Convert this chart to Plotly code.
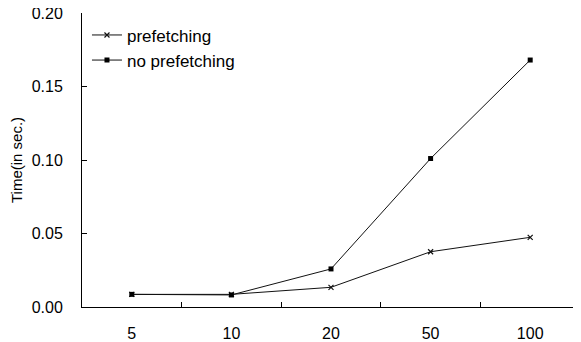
import plotly.graph_objects as go

categories = ["5", "10", "20", "50", "100"]
prefetching = [0.0086, 0.0086, 0.0134, 0.0376, 0.0474]
no_prefetching = [0.0086, 0.0082, 0.0259, 0.101, 0.168]
y_ticks = [0.0, 0.05, 0.10, 0.15, 0.20]
y_tick_labels = ["0.00", "0.05", "0.10", "0.15", "0.20"]

font = "Liberation Sans, Arial, sans-serif"

fig = go.Figure()
fig.add_trace(go.Scatter(
    x=categories, y=prefetching, name="prefetching", mode="lines+markers",
    line=dict(color="#111111", width=1),
    marker=dict(symbol="x-thin", size=5, line=dict(color="#111111", width=1.2)),
))
fig.add_trace(go.Scatter(
    x=categories, y=no_prefetching, name="no prefetching", mode="lines+markers",
    line=dict(color="#111111", width=1),
    marker=dict(symbol="square", size=5, color="#000000"),
))

fig.update_layout(
    width=573, height=334,
    margin=dict(l=74, r=1, t=5, b=35),
    paper_bgcolor="white", plot_bgcolor="white",
    font=dict(family=font, size=16, color="black"),
    showlegend=True,
    legend=dict(x=0.01, y=0.985, xanchor="left", yanchor="top",
                bgcolor="rgba(0,0,0,0)", itemwidth=30,
                font=dict(size=17), tracegroupgap=0),
)
fig.update_xaxes(
    type="category", range=[-0.5, 4.5], automargin=False,
    showline=True, linecolor="black", linewidth=1,
    ticks="inside", ticklen=5, tickcolor="black", tickson="boundaries",
    showgrid=False, zeroline=False, ticklabelstandoff=12,
    tickfont=dict(size=16),
)
fig.update_yaxes(
    range=[0, 0.20], tickvals=y_ticks, ticktext=y_tick_labels, automargin=False,
    showline=True, linecolor="black", linewidth=1,
    ticks="inside", ticklen=5, tickcolor="black",
    showgrid=False, zeroline=False, ticklabelstandoff=15,
    ticklabeloverflow="allow",
    tickfont=dict(size=16),
    title=dict(text="Time(in sec.)", font=dict(size=15), standoff=6),
)

fig.write_html("out.html")
